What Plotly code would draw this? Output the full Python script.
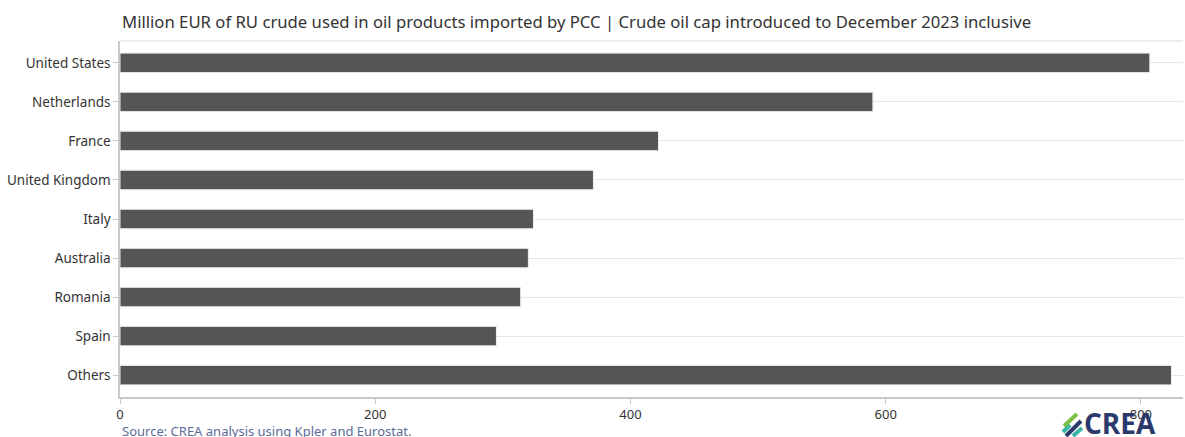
import plotly.graph_objects as go

countries = ["United States", "Netherlands", "France", "United Kingdom", "Italy",
             "Australia", "Romania", "Spain", "Others"]
values = [807, 590, 422, 371, 324, 320, 314, 295, 824]
x_ticks = [0, 200, 400, 600, 800]

title_text = "Million EUR of RU crude used in oil products imported by PCC | Crude oil cap introduced to December 2023 inclusive"
source_text = "Source: CREA analysis using Kpler and Eurostat."

W, H = 1185, 437
L, R, T, B = 120, 2, 41, 40
PW, PH = W - L - R, H - T - B

def px(x):
    return (x - L) / PW

def py(y):
    return (H - B - y) / PH

fig = go.Figure(go.Bar(
    x=values, y=countries, orientation="h",
    marker=dict(color="#555555", line=dict(color="#eeeeee", width=1)),
    width=0.5,
))

font = "Noto Sans, Open Sans, sans-serif"

fig.update_layout(
    width=W, height=H,
    margin=dict(l=L, r=R, t=T, b=B),
    paper_bgcolor="white", plot_bgcolor="white",
    showlegend=False,
    font=dict(family=font, size=13, color="#333333"),
    xaxis=dict(range=[0, 833], tickvals=x_ticks, showgrid=False, zeroline=False,
               showline=True, linecolor="#c8c8c8", linewidth=1.5,
               ticks="outside", ticklen=5, tickcolor="#c8c8c8",
               tickfont=dict(size=13, color="#333333")),
    yaxis=dict(categoryorder="array", categoryarray=countries,
               range=[len(countries) - 1 + 0.56, -0.56],
               showgrid=True, gridcolor="#e6e6e6", gridwidth=1,
               showline=True, linecolor="#c8c8c8", linewidth=1.5,
               ticks="outside", ticklen=5, tickcolor="#c8c8c8",
               tickfont=dict(size=13.5, color="#333333")),
)

fig.add_shape(type="line", xref="paper", yref="paper", x0=0, x1=1, y0=1, y1=1,
              line=dict(color="#e6e6e6", width=1.5), layer="below")

fig.add_annotation(text=title_text, xref="paper", yref="paper", x=0, y=py(22),
                   xanchor="left", yanchor="middle", showarrow=False,
                   font=dict(size=16.7, color="#333333", family=font))
fig.add_annotation(text=source_text, xref="paper", yref="paper", x=0, y=py(431),
                   xanchor="left", yanchor="middle", showarrow=False,
                   font=dict(size=13, color="#5b6b99", family=font))
fig.add_annotation(text="<b>CREA</b>", xref="paper", yref="paper", x=px(1082), y=py(423),
                   xanchor="left", yanchor="middle", showarrow=False,
                   font=dict(size=28, color="#2b3a6b", family="Open Sans, sans-serif"))

# logo icon stripes
stripes = [
    ((1063, 432), (1070, 425), "#3bb3a8"),
    ((1066, 436), (1081, 421), "#2b3a6b"),
    ((1064, 426), (1077, 414), "#7cc242"),
    ((1073, 436), (1082, 428), "#3bb3a8"),
]
for (x0, y0), (x1, y1), c in stripes:
    fig.add_shape(type="line", xref="paper", yref="paper",
                  x0=px(x0), y0=py(y0), x1=px(x1), y1=py(y1),
                  line=dict(color=c, width=4))

fig.write_html("out.html", config={"displayModeBar": False},
               post_script="document.body.style.margin='0';document.body.style.overflow='hidden';")
